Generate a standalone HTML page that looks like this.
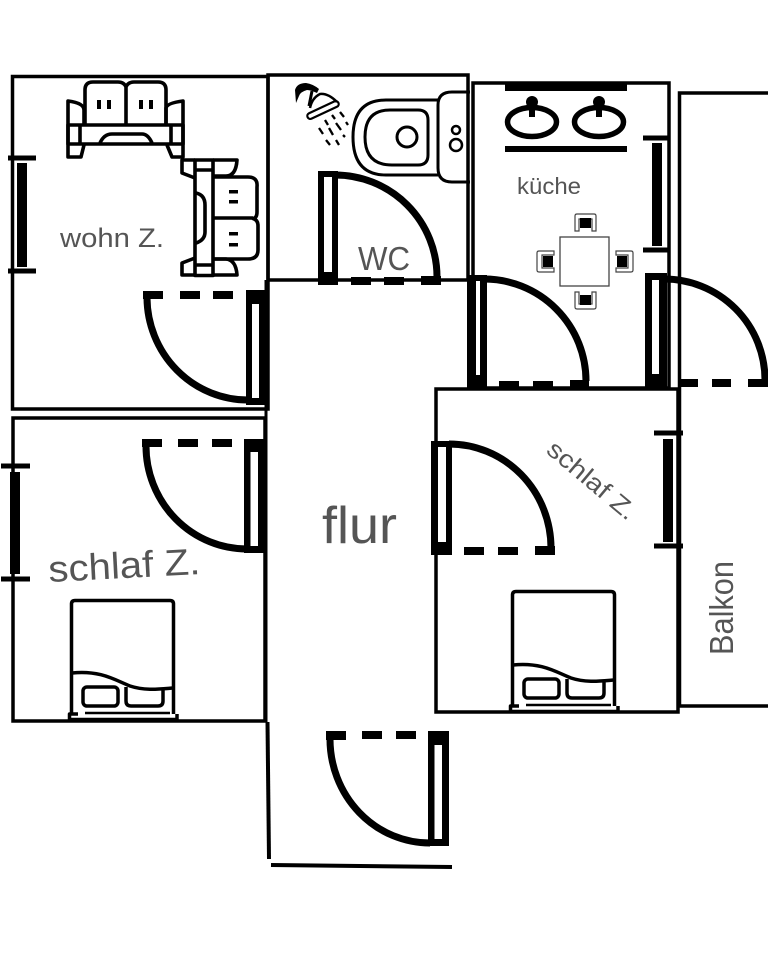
<!DOCTYPE html>
<html>
<head>
<meta charset="utf-8">
<style>
html,body{margin:0;padding:0;background:#fff;}
svg{display:block;}
text{font-family:"Liberation Sans",sans-serif;fill:#555;}
</style>
</head>
<body>
<svg width="768" height="960" viewBox="0 0 768 960" xmlns="http://www.w3.org/2000/svg">
<rect width="768" height="960" fill="#fff"/>

<!-- rooms -->
<g fill="none" stroke="#000" stroke-width="3.5">
  <rect x="12.5" y="76.5" width="255.5" height="332.5"/>
  <rect x="13" y="418" width="252" height="303"/>
  <rect x="268" y="75" width="200" height="205" stroke-width="3.5"/>
  <rect x="473" y="83" width="196" height="305"/>
  <rect x="436" y="389" width="242" height="323"/>
  <path d="M768,93 H679.5 V706 H768"/>
  <path d="M266,280 V722" stroke-width="3"/>
  <path d="M267.5,722 L269,859" stroke-width="4"/>
  <path d="M271,865 L452,867" stroke-width="4"/>
</g>

<!-- windows -->
<g fill="#000">
  <rect x="8" y="155.500" width="28" height="5"/><rect x="8" y="268.500" width="28" height="5"/><rect x="17" y="163" width="10" height="104"/>
  <rect x="1" y="463.500" width="29" height="5"/><rect x="1" y="576.500" width="29" height="5"/><rect x="10" y="472" width="10" height="102"/>
  <rect x="643" y="135.500" width="27" height="5"/><rect x="643" y="247.500" width="27" height="5"/><rect x="652" y="143" width="10" height="103"/>
  <rect x="654" y="430.500" width="29" height="5"/><rect x="654" y="543.500" width="29" height="5"/><rect x="663" y="439" width="10" height="103"/>
</g>

<!-- door arcs -->
<g fill="none" stroke="#000" stroke-width="7">
  <path d="M147,298 A101,103 0 0 0 248,400"/>
  <path d="M146,446 A101,103 0 0 0 247,549"/>
  <path d="M335,175 A102,102 0 0 1 437,277"/>
  <path d="M484,279 A102,102 0 0 1 586,381"/>
  <path d="M664,279 A101,101 0 0 1 765,380"/>
  <path d="M449,444 A102,104 0 0 1 551,548"/>
  <path d="M330,739 A100,104 0 0 0 430,843"/>
</g>

<!-- door dashes and leaves -->
<g fill="#000">
  <rect x="143" y="291" width="20" height="8"/><rect x="180" y="291" width="20" height="8"/><rect x="213" y="291" width="20" height="8"/>
  <path fill-rule="evenodd" d="M246,290 H268 V405 H246 Z M252,304 V398 H259 V304 Z"/>

  <rect x="142" y="439" width="20" height="8"/><rect x="178" y="439" width="20" height="8"/><rect x="212" y="439" width="20" height="8"/>
  <path fill-rule="evenodd" d="M244,439 H265 V553 H244 Z M250.500,452 V546 H258 V452 Z"/>

  <path fill-rule="evenodd" d="M318,171 H338 V285 H318 Z M324,177 V272 H332 V177 Z"/>
  <rect x="351" y="277" width="20" height="8"/><rect x="384" y="277" width="20" height="8"/><rect x="421" y="276" width="20" height="9"/>

  <path fill-rule="evenodd" d="M467,275 H487 V389 H467 Z M476,281 V375 H480 V281 Z"/>
  <rect x="499" y="381" width="20" height="8"/><rect x="533" y="381" width="20" height="8"/><rect x="570" y="380" width="19" height="9"/>

  <path fill-rule="evenodd" d="M645,273 H667 V388 H645 Z M652,280 V374 H659 V280 Z"/>
  <rect x="680" y="379" width="18" height="8"/><rect x="712" y="379" width="19" height="8"/><rect x="748" y="379" width="20" height="8"/>

  <path fill-rule="evenodd" d="M431,441 H452 V555 H431 Z M438,447 V542 H446 V447 Z"/>
  <rect x="464" y="547" width="20" height="8"/><rect x="498" y="547" width="20" height="8"/><rect x="535" y="546" width="20" height="9"/>

  <rect x="326" y="731" width="20" height="9"/><rect x="362" y="731" width="20" height="8"/><rect x="396" y="731" width="20" height="8"/>
  <path fill-rule="evenodd" d="M428,731 H449 V846 H428 Z M434.500,745 V839 H442 V745 Z"/>
</g>

<!-- sofa top -->
<g fill="none" stroke="#000" stroke-width="3.600" stroke-linejoin="round">
  <path d="M85,124 V90 Q85,82 93,82 H118 Q124,82 126,87 Q128,82 134,82 H158 Q166,82 166,90 V124 M126,87 V124"/>
  <path d="M84,124 V110 Q84,103 68,101 V157 H81 L84,145"/>
  <path d="M166,124 V108 Q167,103 183,101 V157 H172 L167,145"/>
  <rect x="68" y="125" width="115" height="19"/>
  <path d="M80,125 V144 M171,125 V144"/>
  <path d="M100,143 Q104,134 112,134 H142 Q148,134 152,143"/>
</g>
<g fill="#000">
  <rect x="97" y="100" width="4" height="9"/><rect x="107" y="100" width="4" height="9"/>
  <rect x="139" y="100" width="4" height="9"/><rect x="149" y="100" width="4" height="9"/>
  <rect x="229" y="190" width="9" height="3.500"/><rect x="229" y="200" width="9" height="3.500"/>
  <rect x="229" y="232" width="9" height="3.500"/><rect x="229" y="243" width="9" height="3.500"/>
</g>

<!-- sofa right -->
<g fill="none" stroke="#000" stroke-width="3.600" stroke-linejoin="round">
  <rect x="195" y="160" width="18" height="115.500"/>
  <path d="M195,170 H213 M195,265 H213"/>
  <path d="M195,160 H182 V173 L195,178 M213,160 H237 Q236,176 226,176 H213"/>
  <path d="M195,275 H182 V263 L195,258 M213,275 H237 Q236,260 226,259 H213"/>
  <path d="M213,177 H248 Q258,177 257,187 V212 Q257,218 253,218.500 Q258,220 258,226 V250 Q258,259 248,259 H213 M213,218 H253"/>
  <path d="M196,193 Q205,195 205,205 V232 Q205,240 196,243"/>
</g>

<!-- shower -->
<path d="M296,103 L295,90 Q297,83 306,83 Q313,84 319,89 L317,93 Q311,90 307,90 Q300,92 299,96 Z" fill="#000"/>
<g fill="none" stroke="#000">
  <path d="M312,91 L309,106" stroke-width="3"/>
  <path d="M310,108 Q312,98 320,94 Q328,93 337,102" stroke-width="2.500"/>
  <rect x="-17" y="-3" width="34" height="6" rx="3" transform="translate(323,110) rotate(-25)" stroke-width="2.200"/>
  <g stroke-width="2.300">
    <path d="M325,120 L328,125 M332,115 L335,119 M340,112 L344,117 M346,122 L348,125"/>
    <path d="M319,128 L323,134 M329,128 L333,135 M336,123 L341,130 M343,135 L345,137"/>
    <path d="M326,140 L330,145 M336,140 L339,145"/>
  </g>
</g>

<!-- toilet -->
<g fill="none" stroke="#000" stroke-width="3">
  <path d="M470,92 H452 Q438,92 438,105 V168 Q438,182 452,182 H470"/>
  <path d="M438,100 H386 Q353,100 353,137 Q353,175 386,175 H438"/>
  <path d="M390,110 H418 Q428,110 428,120 V155 Q428,165 418,165 H392 Q365,165 365,137 Q365,110 390,110 Z"/>
  <circle cx="407" cy="137" r="10"/>
  <circle cx="456" cy="130" r="4" stroke-width="2.500"/>
  <circle cx="456" cy="145" r="6" stroke-width="2.500"/>
</g>

<!-- kitchen counter and sinks -->
<g fill="#000">
  <rect x="505" y="84" width="122" height="7"/>
  <rect x="505" y="146" width="122" height="6"/>
  <circle cx="532" cy="102" r="6"/><rect x="529" y="102" width="6" height="15"/>
  <circle cx="599" cy="102" r="6"/><rect x="596" y="102" width="6" height="15"/>
</g>
<g fill="none" stroke="#000" stroke-width="5.500">
  <ellipse cx="532" cy="122" rx="24.500" ry="14.500"/>
  <ellipse cx="599" cy="122" rx="24.500" ry="14.500"/>
</g>

<!-- table & chairs -->
<rect x="560" y="237" width="49" height="49" fill="#fff" stroke="#444" stroke-width="1.300"/>
<g>
  <path d="M575,231 V216 Q575,214 577,214 H594 Q596,214 596,216 V231 H592 V219 H579 V231 Z" fill="#fff" stroke="#444" stroke-width="1.200"/>
  <rect x="580" y="218" width="11" height="10" fill="#000"/>
  <path d="M575,292 V307 Q575,309 577,309 H594 Q596,309 596,307 V292 H592 V304 H579 V292 Z" fill="#fff" stroke="#444" stroke-width="1.200"/>
  <rect x="580" y="295" width="11" height="10" fill="#000"/>
  <path d="M554,251 H539 Q537,251 537,253 V270 Q537,272 539,272 H554 V268 H542 V255 H554 Z" fill="#fff" stroke="#444" stroke-width="1.200"/>
  <rect x="543" y="256" width="10" height="11" fill="#000"/>
  <path d="M616,251 H631 Q633,251 633,253 V270 Q633,272 631,272 H616 V268 H628 V255 H616 Z" fill="#fff" stroke="#444" stroke-width="1.200"/>
  <rect x="617" y="256" width="10" height="11" fill="#000"/>
</g>

<!-- bed left -->
<g fill="none" stroke="#000" stroke-width="3.500" stroke-linejoin="round">
  <path d="M71.500,714 V604 Q71.500,600.500 75,600.500 H170 Q173.500,600.500 173.500,604 V714"/>
  <path d="M72,673 C100,670 115,680 130,686 C145,691 160,689 173,688"/>
  <rect x="83" y="687" width="35" height="19" rx="4"/>
  <path d="M126,687 V701 Q126,706 131,706 H158 Q163,706 163,701 V688"/>
  <path d="M85,713 H170" stroke-width="2.500"/>
  <path d="M69.500,720 V714 H78"/>
  <path d="M177,720 V714"/>
  <path d="M69,719.500 H177" stroke-width="3.500"/>
</g>
<!-- bed right -->
<g fill="none" stroke="#000" stroke-width="3.500" stroke-linejoin="round" transform="translate(441,-8)">
  <path d="M71.500,714 V603 Q71.500,599.500 75,599.500 H170 Q173.500,599.500 173.500,603 V714"/>
  <path d="M72,673 C100,670 115,680 130,686 C145,691 160,689 173,688"/>
  <rect x="83" y="687" width="35" height="19" rx="4"/>
  <path d="M126,687 V701 Q126,706 131,706 H158 Q163,706 163,701 V688"/>
  <path d="M85,713 H170" stroke-width="2.500"/>
  <path d="M69.500,720 V714 H78"/>
  <path d="M177,720 V714"/>
  <path d="M69,719.500 H177" stroke-width="3.500"/>
</g>

<!-- labels -->
<text x="60" y="247" font-size="27" textLength="104" lengthAdjust="spacingAndGlyphs">wohn Z.</text>
<text x="358" y="270" font-size="33" textLength="52" lengthAdjust="spacingAndGlyphs">WC</text>
<text x="517" y="194" font-size="23" textLength="64" lengthAdjust="spacingAndGlyphs">küche</text>
<text x="322" y="543" font-size="52" textLength="75" lengthAdjust="spacingAndGlyphs">flur</text>
<text transform="translate(49,582) rotate(-3)" font-size="37" textLength="152" lengthAdjust="spacingAndGlyphs">schlaf Z.</text>
<text transform="translate(545,452) rotate(40)" font-size="25" textLength="108" lengthAdjust="spacingAndGlyphs">schlaf Z.</text>
<text transform="translate(733,655) rotate(-90)" font-size="33" textLength="94" lengthAdjust="spacingAndGlyphs">Balkon</text>
</svg>
</body>
</html>
